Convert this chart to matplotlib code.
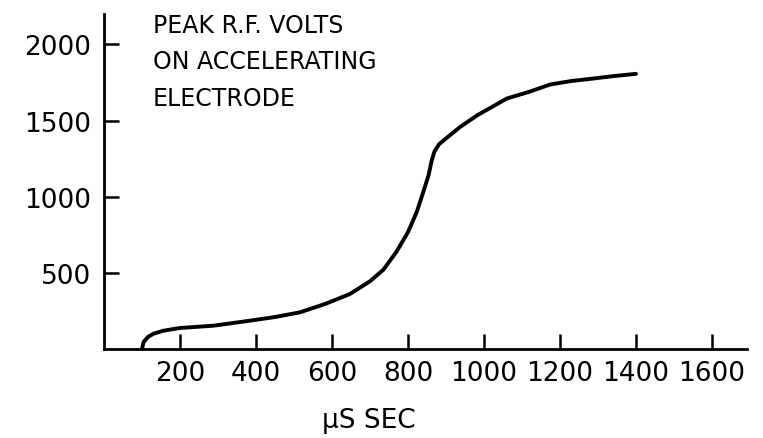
import matplotlib
matplotlib.use("Agg")
import matplotlib.pyplot as plt

# Data
time_us = [100, 104, 115, 130, 156, 200, 288, 384, 450, 516, 582, 647, 700,
           735, 770, 800, 823, 840, 854, 862, 870, 882, 901, 937, 981, 1060,
           1120, 1174, 1230, 1287, 1340, 1400]
volts = [0, 45, 78, 100, 120, 138, 153, 186, 210, 241, 296, 361, 445,
         520, 640, 768, 900, 1030, 1140, 1235, 1300, 1345, 1385, 1458, 1533,
         1645, 1690, 1737, 1760, 1776, 1792, 1807]

x_ticks = [200, 400, 600, 800, 1000, 1200, 1400, 1600]
x_tick_labels = ["200", "400", "600", "800", "1000", "1200", "1400", "1600"]
y_ticks = [500, 1000, 1500, 2000]
y_tick_labels = ["500", "1000", "1500", "2000"]

title_lines = "PEAK R.F. VOLTS\nON ACCELERATING\nELECTRODE"
x_label = "\u03bcS SEC"

plt.rcParams['font.family'] = ['DejaVu Sans']

fig = plt.figure(figsize=(7.63, 4.39), dpi=100)
ax = fig.add_axes([104 / 763, 89 / 439, 643 / 763, 335 / 439])

ax.plot(time_us, volts, color="black", lw=2.8, solid_capstyle="round",
        solid_joinstyle="round")

ax.set_xlim(0, 1692)
ax.set_ylim(0, 2200)

for s in ["top", "right"]:
    ax.spines[s].set_visible(False)
for s in ["left", "bottom"]:
    ax.spines[s].set_linewidth(2.0)
    ax.spines[s].set_color("black")

ax.set_xticks(x_ticks)
ax.set_xticklabels(x_tick_labels)
ax.set_yticks(y_ticks)
ax.set_yticklabels(y_tick_labels)
ax.tick_params(axis="both", direction="in", length=11, width=1.8,
               labelsize=19, colors="black")
ax.tick_params(axis="x", pad=8)
ax.tick_params(axis="y", pad=9)

fig.text(153 / 763, 1 - 14 / 439, title_lines, ha="left", va="top",
         fontsize=17, linespacing=1.65, color="black")

fig.text(369 / 763, 1 - 421 / 439, x_label, ha="center", va="center",
         fontsize=19, color="black")

fig.savefig("out.png", dpi=100, facecolor="white")
